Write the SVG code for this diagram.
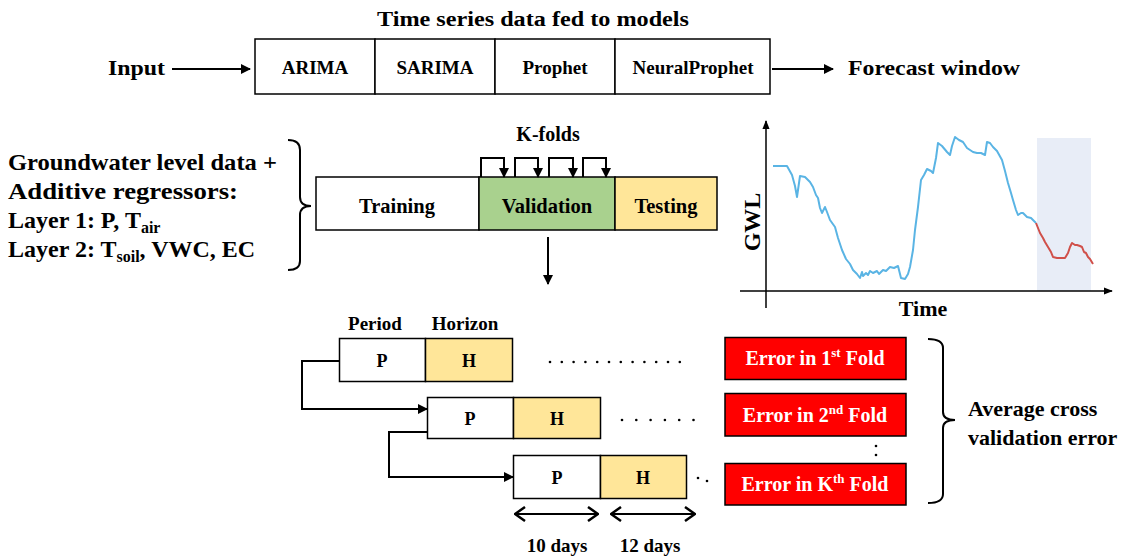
<svg xmlns="http://www.w3.org/2000/svg" width="1137" height="557" viewBox="0 0 1137 557">
<style>
text{font-family:"Liberation Serif","Times New Roman",serif;font-weight:bold;fill:#000}
.box{stroke:#000;stroke-width:1.5}
.ln{fill:none;stroke:#000;stroke-width:2}
.c{text-anchor:middle}
.w{fill:#fff}
</style>
<defs>
<marker id="ah" viewBox="0 0 10 10" refX="9" refY="5" markerWidth="10" markerHeight="10" markerUnits="userSpaceOnUse" orient="auto"><path d="M0,0 L10,5 L0,10 Z" fill="#000"/></marker>
<marker id="ah2" viewBox="0 0 10 10" refX="9" refY="5" markerWidth="9" markerHeight="9" markerUnits="userSpaceOnUse" orient="auto"><path d="M0,1 L10,5 L0,9 Z" fill="#000"/></marker>
<marker id="chev" viewBox="0 0 12 16" refX="11" refY="8" markerWidth="12" markerHeight="16" markerUnits="userSpaceOnUse" orient="auto-start-reverse"><path d="M1,1 L11,8 L1,15" fill="none" stroke="#000" stroke-width="2.5"/></marker>
</defs>
<rect width="1137" height="557" fill="#fff"/>

<g id="title"><text x="533" y="26" class="c" font-size="20" textLength="312" lengthAdjust="spacingAndGlyphs">Time series data fed to models</text></g>

<g id="input"><text x="108" y="75" font-size="22" textLength="57" lengthAdjust="spacingAndGlyphs">Input</text></g>

<g id="models">
<rect x="255" y="39" width="120" height="55" fill="#fff" class="box"/>
<rect x="375" y="39" width="120" height="55" fill="#fff" class="box"/>
<rect x="495" y="39" width="120" height="55" fill="#fff" class="box"/>
<rect x="615" y="39" width="155" height="55" fill="#fff" class="box"/>
<text x="315" y="74" class="c" font-size="19">ARIMA</text>
<text x="435" y="74" class="c" font-size="19">SARIMA</text>
<text x="555" y="74" class="c" font-size="19">Prophet</text>
<text x="693" y="74" class="c" font-size="19">NeuralProphet</text>
</g>

<g id="forecast"><text x="848" y="75" font-size="22" textLength="172" lengthAdjust="spacingAndGlyphs">Forecast window</text></g>

<g id="regressors">
<text x="8" y="170" font-size="24" textLength="269" lengthAdjust="spacingAndGlyphs">Groundwater level data +</text>
<text x="8" y="199" font-size="24" textLength="230" lengthAdjust="spacingAndGlyphs">Additive regressors:</text>
<text x="8" y="228" font-size="24">Layer 1: P, T<tspan font-size="16" dy="5">air</tspan></text>
<text x="8" y="257" font-size="24">Layer 2: T<tspan font-size="16" dy="5">soil</tspan><tspan dy="-5">, VWC, EC</tspan></text>
</g>

<g id="split">
<rect x="316" y="177" width="163" height="53" fill="#fff" class="box"/>
<rect x="479" y="177" width="136" height="53" fill="#a9d18e" class="box"/>
<rect x="615" y="177" width="102" height="53" fill="#ffe699" class="box"/>
<text x="397" y="213" class="c" font-size="20.5">Training</text>
<text x="547" y="213" class="c" font-size="20.5">Validation</text>
<text x="666" y="213" class="c" font-size="20.5">Testing</text>
</g>

<g id="kfolds-label"><text x="548" y="141" class="c" font-size="20">K-folds</text></g>

<g id="chart">
<rect x="1037" y="138" width="54" height="153" fill="#e8edf7"/>
<line x1="766" y1="308" x2="766" y2="121" stroke="#000" stroke-width="1.5" marker-end="url(#ah2)"/>
<line x1="740" y1="291" x2="1112" y2="291" stroke="#000" stroke-width="1.5" marker-end="url(#ah2)"/>
<polyline fill="none" stroke="#5ab4e4" stroke-width="2" stroke-linejoin="round" points="773,166 787,166 792,175 795,186 797,197 800,176 805,177 810,182 813,187 816,195 818,198 820,208 822,213 825,207 827,212 830,220 835,227 838,238 842,250 846,259 850,264 853,270 857,274 860,278 862,272 863,276 866,273 868,275 870,271 873,273 877,271 879,274 883,270 886,271 890,267 894,268 898,266 901,278 905,279 908,274 910,267 913,250 915,230 918,207 921,180 924,175 927,169 931,171 933,173 936,158 938,143 942,146 947,152 950,155 952,146 955,137 959,140 963,142 967,148 970,150 973,152 977,153 981,153 985,155 987,142 990,143 993,147 997,151 1002,160 1005,171 1008,183 1011,193 1013,200 1016,210 1018,215 1021,213 1023,213 1027,217 1031,218 1036,223"/>
<polyline fill="none" stroke="#d0504a" stroke-width="2" stroke-linejoin="round" points="1036,223 1040,233 1043,238 1045,242 1048,247 1051,252 1053,257 1057,258 1060,258 1063,258 1065,258 1068,253 1070,247 1072,243 1075,245 1077,245 1080,246 1082,247 1084,252 1086,253 1088,257 1090,259 1093,264"/>
<text transform="translate(760,222) rotate(-90)" class="c" font-size="24">GWL</text>
<text x="923" y="316" class="c" font-size="22">Time</text>
</g>

<g id="row1">
<rect x="339.5" y="338.5" width="86" height="43" fill="#fff" class="box"/>
<rect x="425.5" y="338.5" width="87" height="43" fill="#ffe699" class="box"/>
<text x="382" y="367" class="c" font-size="18">P</text>
<text x="469" y="367" class="c" font-size="18">H</text>
<text x="375" y="330" class="c" font-size="19">Period</text>
<text x="465" y="330" class="c" font-size="19">Horizon</text>
</g>
<g id="row2">
<rect x="427.5" y="397.5" width="86" height="41" fill="#fff" class="box"/>
<rect x="513.5" y="397.5" width="87" height="41" fill="#ffe699" class="box"/>
<text x="470" y="425" class="c" font-size="18">P</text>
<text x="557" y="425" class="c" font-size="18">H</text>
</g>
<g id="row3">
<rect x="513.5" y="455.5" width="87" height="43" fill="#fff" class="box"/>
<rect x="600.5" y="455.5" width="86" height="43" fill="#ffe699" class="box"/>
<text x="557" y="484" class="c" font-size="18">P</text>
<text x="643" y="484" class="c" font-size="18">H</text>
</g>

<g id="dots" fill="#000">
<circle cx="550" cy="362" r="1.3"/><circle cx="561.8" cy="362" r="1.3"/><circle cx="573.6" cy="362" r="1.3"/><circle cx="585.4" cy="362" r="1.3"/><circle cx="597.2" cy="362" r="1.3"/><circle cx="609" cy="362" r="1.3"/><circle cx="620.8" cy="362" r="1.3"/><circle cx="632.6" cy="362" r="1.3"/><circle cx="644.4" cy="362" r="1.3"/><circle cx="656.2" cy="362" r="1.3"/><circle cx="668" cy="362" r="1.3"/><circle cx="679.8" cy="362" r="1.3"/>
<circle cx="622" cy="420" r="1.3"/><circle cx="636.3" cy="420" r="1.3"/><circle cx="650.6" cy="420" r="1.3"/><circle cx="664.9" cy="420" r="1.3"/><circle cx="679.2" cy="420" r="1.3"/><circle cx="693.5" cy="420" r="1.3"/>
<circle cx="698" cy="478" r="1.3"/><circle cx="707" cy="481" r="1.3"/>
<circle cx="876" cy="446" r="1.3"/><circle cx="876" cy="455" r="1.3"/>
</g>

<g id="errors">
<rect x="725" y="337.5" width="181" height="42" fill="#ff0000" class="box" stroke-width="1"/>
<rect x="725" y="393.5" width="181" height="42.5" fill="#ff0000" class="box" stroke-width="1"/>
<rect x="725" y="463.5" width="181" height="41.5" fill="#ff0000" class="box" stroke-width="1"/>
<text x="815" y="365" class="c w" font-size="20">Error in 1<tspan font-size="13" dy="-8">st</tspan><tspan dy="8"> Fold</tspan></text>
<text x="815" y="422" class="c w" font-size="20">Error in 2<tspan font-size="13" dy="-8">nd</tspan><tspan dy="8"> Fold</tspan></text>
<text x="815" y="491" class="c w" font-size="20">Error in K<tspan font-size="13" dy="-8">th</tspan><tspan dy="8"> Fold</tspan></text>
</g>

<g id="average">
<text x="968" y="416" font-size="22">Average cross</text>
<text x="968" y="445" font-size="22">validation error</text>
</g>

<g id="days">
<text x="557" y="552" class="c" font-size="19">10 days</text>
<text x="650" y="552" class="c" font-size="19">12 days</text>
</g>

<g id="connectors">
<line x1="172" y1="69" x2="250" y2="69" class="ln" marker-end="url(#ah)"/>
<line x1="772" y1="69" x2="833" y2="69" class="ln" marker-end="url(#ah)"/>
<path d="M288,140 Q300,140 300,150 L300,197 Q300,206 311,206 Q300,206 300,215 L300,261 Q300,270 288,270" class="ln"/>
<path d="M481,177 V158 H504 V177" class="ln" marker-end="url(#ah)"/>
<path d="M515,177 V158 H538 V177" class="ln" marker-end="url(#ah)"/>
<path d="M549,177 V158 H573 V177" class="ln" marker-end="url(#ah)"/>
<path d="M583,177 V158 H606 V177" class="ln" marker-end="url(#ah)"/>
<line x1="548" y1="237" x2="548" y2="284" class="ln" marker-end="url(#ah)"/>
<path d="M339,361 H302 V409 H427" class="ln" stroke-width="1.5" marker-end="url(#ah)"/>
<path d="M427,432 H389 V477 H513" class="ln" stroke-width="1.5" marker-end="url(#ah)"/>
<line x1="515" y1="514" x2="598" y2="514" class="ln" marker-start="url(#chev)" marker-end="url(#chev)"/>
<line x1="611" y1="514" x2="695" y2="514" class="ln" marker-start="url(#chev)" marker-end="url(#chev)"/>
<path d="M928,339 Q943,339 943,348 L943,412 Q943,420 955,420 Q943,420 943,428 L943,494 Q943,503 928,503" class="ln"/>
</g>
</svg>
